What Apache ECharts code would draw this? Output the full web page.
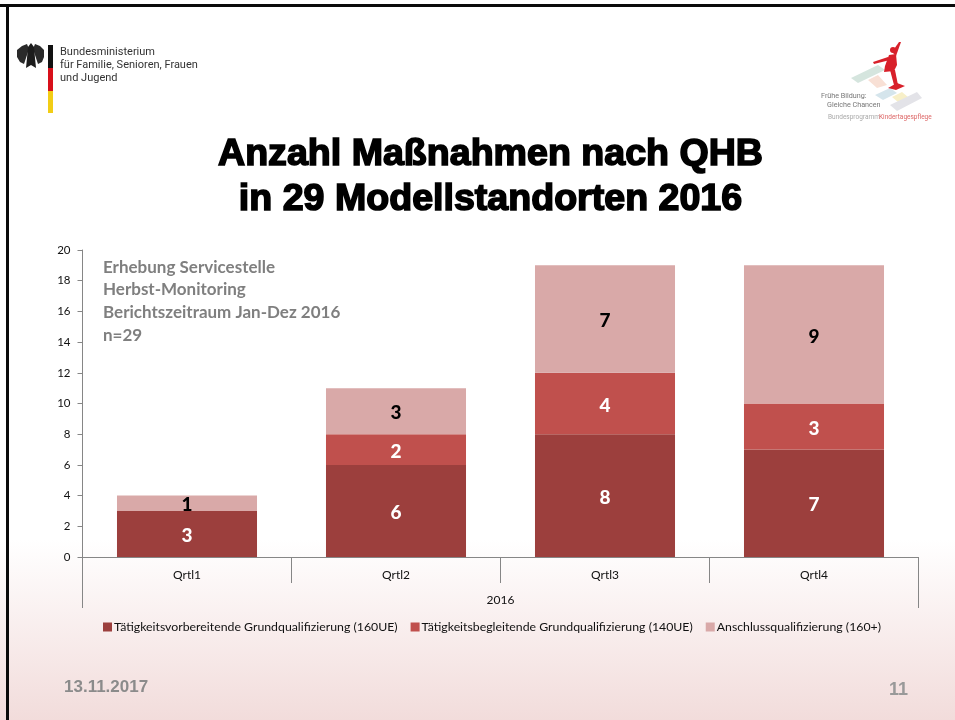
<!DOCTYPE html>
<html>
<head>
<meta charset="utf-8">
<title>Anzahl Maßnahmen nach QHB</title>
<script src="https://cdn.jsdelivr.net/npm/echarts@6/dist/echarts.min.js"></script>
<style>
html, body { margin: 0; padding: 0; background: #fff; }
#chart { width: 955px; height: 720px; }
</style>
</head>
<body>
<div id="chart"></div>
<script>
var quarters = ['Qrtl1', 'Qrtl2', 'Qrtl3', 'Qrtl4']
var years = ['2016']
var vorbereitend = [3, 6, 8, 7]
var begleitend = [0, 2, 4, 3]
var anschluss = [1, 3, 7, 9]
var yMax = 20
var yStep = 2

var textFont = 'Lato, Carlito, sans-serif'
var logoFont = 'Roboto, sans-serif'
var titleFont = 'Liberation Sans, Arial, sans-serif'

function barSeries (name, values, color, labelColor) {
  return {
    name: name,
    type: 'bar',
    stack: 'total',
    barWidth: '67%',
    xAxisIndex: 0,
    data: values,
    itemStyle: { color: color },
    label: {
      show: true,
      position: 'inside',
      offset: [0, 2],
      color: labelColor,
      fontFamily: textFont,
      fontWeight: 900,
      fontSize: 19,
      // Qrtl1 hat keinen begleitenden Wert
      formatter: function (p) { return p.value === 0 ? '' : p.value }
    }
  }
}

function txt (x, y, text, size, color, weight, family, extra) {
  return {
    type: 'text',
    x: x,
    y: y,
    style: Object.assign({
      text: text,
      fontSize: size,
      fill: color,
      fontWeight: weight || 'normal',
      fontFamily: family || textFont
    }, extra || {})
  }
}

function rect (x, y, w, h, color) {
  return { type: 'rect', shape: { x: x, y: y, width: w, height: h }, style: { fill: color } }
}

function poly (points, color) {
  return { type: 'polygon', shape: { points: points }, style: { fill: color } }
}

function dot (cx, cy, r, color) {
  return { type: 'circle', shape: { cx: cx, cy: cy, r: r }, style: { fill: color } }
}

var titleStyle = { stroke: '#000', lineWidth: 1.6, textAlign: 'center' }

var decor = [
  // Rahmen der Folie
  rect(0, 4, 955, 3, '#0a0a0a'),
  rect(6, 4, 3, 716, '#0a0a0a'),
  // Bundesadler
  poly([[22, 46], [27, 44], [29, 49], [24, 64], [20, 62], [17, 57], [17, 50]], '#2a2a2a'),
  poly([[40, 46], [35, 44], [33, 49], [38, 64], [42, 62], [44, 57], [44, 50]], '#2a2a2a'),
  poly([[28, 47], [31, 43], [34, 47], [35, 58], [36, 68], [31, 65], [26, 68], [27, 58]], '#1c1c1c'),
  // Flagge
  rect(48, 45, 5, 23, '#111'),
  rect(48, 68, 5, 23, '#d8101a'),
  rect(48, 91, 5, 22, '#f2cd15'),
  txt(60, 47, 'Bundesministerium', 11, '#333', 'normal', logoFont),
  txt(60, 60, 'für Familie, Senioren, Frauen', 11, '#333', 'normal', logoFont),
  txt(60, 73, 'und Jugend', 11, '#333', 'normal', logoFont),
  // Logo Kindertagespflege
  poly([[851, 78], [878, 65], [885, 70], [858, 83]], '#d5e5de'),
  poly([[868, 80], [878, 75], [887, 85], [877, 88]], '#f8e0d5'),
  poly([[875, 95], [890, 88], [897, 93], [883, 100]], '#d5e5ec'),
  poly([[892, 97], [902, 92], [908, 97], [898, 102]], '#f7efc8'),
  poly([[890, 105], [917, 92], [922, 98], [897, 111]], '#e3e3e8'),
  poly([[873, 62], [888, 57], [890, 60], [874, 64]], '#d8202a'),
  poly([[892, 52], [899, 42], [901, 42], [896, 56]], '#d8202a'),
  dot(893, 50, 3, '#d8202a'),
  poly([[889, 55], [896, 54], [897, 65], [894, 71], [884, 72], [885, 66]], '#d8202a'),
  poly([[890, 70], [895, 70], [898, 85], [894, 85]], '#d8202a'),
  poly([[888, 88], [897, 83], [905, 86], [896, 90]], '#d8202a'),
  txt(821, 93, 'Frühe Bildung:', 7.2, '#777', 'normal', logoFont),
  txt(827, 102, 'Gleiche Chancen', 7.2, '#777', 'normal', logoFont),
  txt(828, 114, 'Bundesprogramm', 6.5, '#aaa', 'normal', logoFont),
  txt(879, 114, 'Kindertagespflege', 6.5, '#d66', 'normal', logoFont),
  // Folientitel
  txt(490.5, 136, 'Anzahl Maßnahmen nach QHB', 37.6, '#000', 'bold', titleFont, titleStyle),
  txt(490.5, 181, 'in 29 Modellstandorten 2016', 37.6, '#000', 'bold', titleFont, titleStyle),
  // Hinweis im Diagramm
  txt(103, 259, 'Erhebung Servicestelle', 17, '#7f7f7f', 'bold'),
  txt(103, 281, 'Herbst-Monitoring', 17, '#7f7f7f', 'bold'),
  txt(103, 304, 'Berichtszeitraum Jan-Dez 2016', 17, '#7f7f7f', 'bold'),
  txt(103, 327, 'n=29', 17, '#7f7f7f', 'bold'),
  // Fusszeile
  txt(64, 679, '13.11.2017', 17, '#8b8b8b', 'bold', titleFont),
  txt(889, 681, '11', 18, '#999', 'bold', titleFont)
]

var myChart = echarts.init(document.getElementById('chart'), null, { renderer: 'canvas' })
myChart.setOption({
  animation: false,
  backgroundColor: {
    type: 'linear', x: 0, y: 0, x2: 0, y2: 1,
    colorStops: [
      { offset: 0, color: '#ffffff' },
      { offset: 0.75, color: '#ffffff' },
      { offset: 1, color: '#f2dcdb' }
    ]
  },
  grid: { left: 82.5, right: 36.5, top: 250, bottom: 163 },
  legend: {
    bottom: 82,
    left: 98,
    itemWidth: 9,
    itemHeight: 9,
    itemGap: 13,
    icon: 'rect',
    textStyle: { fontFamily: textFont, fontSize: 12.3, color: '#111', padding: [0, 0, 0, -3] },
    data: ['Tätigkeitsvorbereitende Grundqualifizierung (160UE)', 'Tätigkeitsbegleitende Grundqualifizierung (140UE)', 'Anschlussqualifizierung (160+)']
  },
  xAxis: [
    {
      type: 'category',
      data: quarters,
      position: 'bottom',
      axisLine: { lineStyle: { color: '#868686' } },
      axisTick: { show: true, length: 26, lineStyle: { color: '#868686' } },
      axisLabel: { color: '#111', fontFamily: textFont, fontSize: 12, margin: 12 }
    },
    {
      type: 'category',
      data: years,
      position: 'bottom',
      axisLine: { show: false },
      axisTick: { show: true, length: 51, lineStyle: { color: '#868686' } },
      axisLabel: { color: '#111', fontFamily: textFont, fontSize: 12, margin: 37 }
    }
  ],
  yAxis: {
    type: 'value',
    min: 0,
    max: yMax,
    interval: yStep,
    splitLine: { show: false },
    axisLine: { show: true, lineStyle: { color: '#868686' } },
    axisTick: { show: true, length: 5, lineStyle: { color: '#868686' } },
    axisLabel: { color: '#111', fontFamily: textFont, fontSize: 11.5, margin: 12 }
  },
  series: [
    barSeries('Tätigkeitsvorbereitende Grundqualifizierung (160UE)', vorbereitend, '#9c3f3d', '#fff'),
    barSeries('Tätigkeitsbegleitende Grundqualifizierung (140UE)', begleitend, '#c0504d', '#fff'),
    barSeries('Anschlussqualifizierung (160+)', anschluss, '#d9a9a8', '#000')
  ],
  graphic: decor
})
</script>
</body>
</html>
